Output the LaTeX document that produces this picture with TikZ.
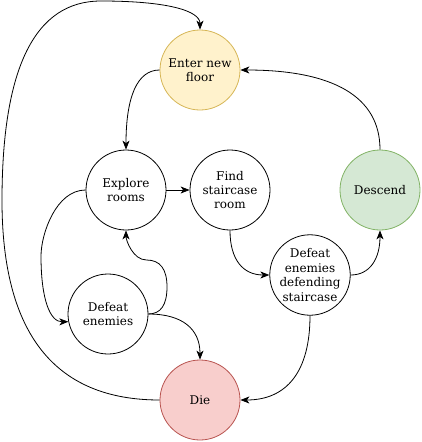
\documentclass[tikz,border=0pt]{standalone}
\usepackage{fontspec}
\setmainfont{DejaVu Serif}
\usetikzlibrary{arrows.meta}
\definecolor{floorfill}{HTML}{FFF2CC}
\definecolor{floorline}{HTML}{D6B656}
\definecolor{descfill}{HTML}{D5E8D4}
\definecolor{descline}{HTML}{82B366}
\definecolor{diefill}{HTML}{F8CECC}
\definecolor{dieline}{HTML}{B85450}
\begin{document}
\begin{tikzpicture}[x=1pt,y=-1pt,
  state/.style={circle,draw,line width=0.8pt,minimum size=80pt,inner sep=0pt,
    align=center,font=\fontsize{12}{14.4}\selectfont},
  link/.style={line width=0.8pt,-{Stealth[length=9pt,width=7pt,inset=2.5pt]}}]
\useasboundingbox (0,0) rectangle (422,442);
% coloured states
\node[state,fill=floorfill,draw=floorline] (enter) at (200,70) {Enter new\\floor};
\node[state,fill=descfill,draw=descline] (descend) at (380,190) {Descend};
\node[state,fill=diefill,draw=dieline] (die) at (200,400) {Die};
% plain states
\foreach \nm/\pos/\txt in {explore/{(126,190)}/{Explore\\rooms},
    find/{(230,190)}/{Find\\staircase\\room},
    guard/{(310,275)}/{Defeat\\enemies\\defending\\staircase},
    fight/{(108,314)}/{Defeat\\enemies}}
  \node[state] (\nm) at \pos {\txt};
% edges
\draw[link] (enter.west) .. controls (137.3,70) and (126,96.7) .. (explore.north);
\draw[link] (explore.east) -- (find.west);
\draw[link] (find.south) .. controls (230,260) and (243.3,275) .. (guard.west);
\draw[link] (guard.east) .. controls (370,275) and (380,258.7) .. (descend.south);
\draw[link] (descend.north) .. controls (380,96.7) and (333.3,70) .. (enter.east);
\draw[link] (guard.south) .. controls (310,371.7) and (286.7,400) .. (die.east);
\draw[link] (explore.west) .. controls (56,190) and (41,234) .. (41,256)
  .. controls (41,300) and (50.3,322) .. (fight.191);
\draw[link] (fight.east) .. controls (160.7,314) and (167,305) .. (167,287)
  .. controls (167,269) and (160.2,260) .. (146.5,260)
  .. controls (132.8,260) and (126,240) .. (explore.south);
\draw[link] (fight.east) .. controls (182.7,314) and (200,329.3) .. (die.north);
\draw[link] (die.west) .. controls (54.7,400) and (2,333.5) .. (2,200.5) % back to the top
  .. controls (2,67.5) and (35,1) .. (101,1)
  .. controls (167,1) and (200,10.7) .. (enter.north);
\end{tikzpicture}
\end{document}
